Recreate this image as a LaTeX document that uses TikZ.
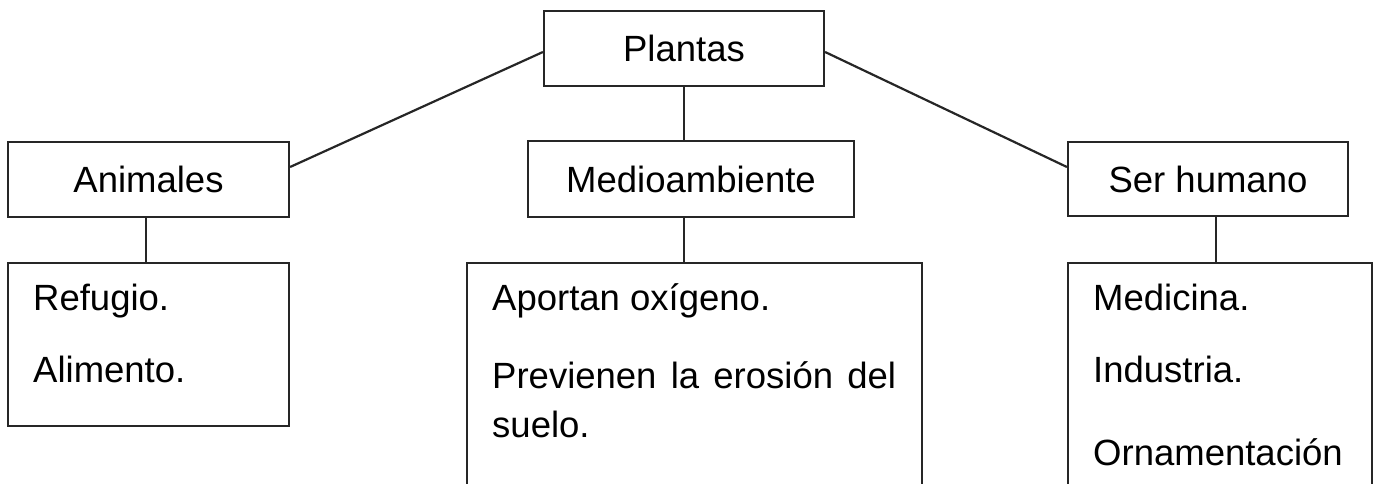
\documentclass[tikz,border=0pt]{standalone}
\usepackage{fontspec}
\setmainfont{Liberation Sans}
\begin{document}
\begin{tikzpicture}[x=1pt,y=-1pt,
  box/.style={draw=black!85,line width=2.2pt,inner sep=0pt,font=\fontsize{36.5}{44}\selectfont},
  txt/.style={anchor=base west,inner sep=0pt,font=\fontsize{36.5}{44}\selectfont},
  conn/.style={draw=black!85,line width=2.2pt}]
\useasboundingbox (0,0) rectangle (1375,484);
\clip (0,0) rectangle (1375,484);
\node[box,minimum width=280pt,minimum height=75pt] (plantas) at (684,48.5) {Plantas};
\node[box,minimum width=281pt,minimum height=75pt] (animales) at (148.5,179.5) {Animales};
\node[box,minimum width=326pt,minimum height=76pt] (medio) at (691,179) {Medioambiente};
\node[box,minimum width=280pt,minimum height=74pt] (ser) at (1208,179) {Ser humano};
\node[box,minimum width=281pt,minimum height=163pt] (bref) at (148.5,344.5) {};
\node[box,minimum width=455pt,minimum height=237pt] (bmed) at (694.5,381.5) {};
\node[box,minimum width=304pt,minimum height=237pt] (bser) at (1220,381.5) {};
\node[txt] (t1) at (33,310) {Refugio.};
\node[txt] (t2) at (33,382) {Alimento.};
\node[txt] (t3) at (492,310) {Aportan oxígeno.};
\node[txt] (t4) at (492,388) {\makebox[404pt][s]{Previenen la erosión del}};
\node[txt] (t5) at (492,437) {suelo.};
\node[txt] (t6) at (1093,310) {Medicina.};
\node[txt] (t7) at (1093,382) {Industria.};
\node[txt] (t8) at (1093,465) {Ornamentación};
\coordinate (pl) at ([yshift=-3.5pt]plantas.west);
\coordinate (pr) at ([yshift=-3.5pt]plantas.east);
\coordinate (ae) at ([yshift=12.5pt]animales.east);
\coordinate (sw) at ([yshift=12pt]ser.west);
\draw[conn] (pl) -- (ae);
\draw[conn] (pr) -- (sw);
\draw[conn] (plantas.south) -- (plantas.south |- medio.north);
\draw[conn] ([xshift=-2.5pt]animales.south) -- ([xshift=-2.5pt]animales.south |- bref.north);
\draw[conn] (plantas.south |- medio.south) -- (plantas.south |- bmed.north);
\draw[conn] ([xshift=8pt]ser.south) -- ([xshift=8pt]ser.south |- bser.north);
\end{tikzpicture}
\end{document}
